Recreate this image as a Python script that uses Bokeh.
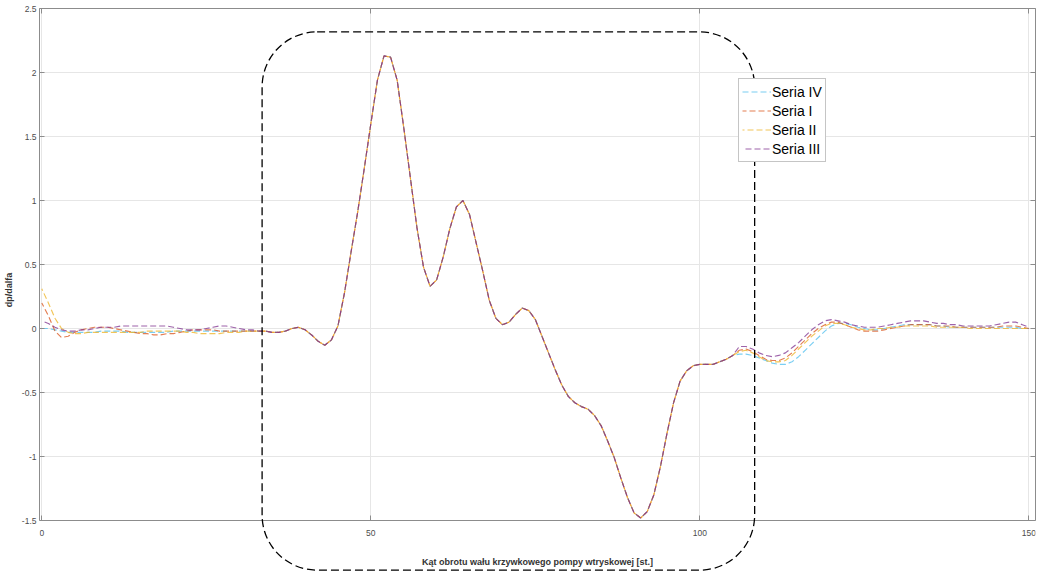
from bokeh.plotting import figure
from bokeh.models import (Label, Legend, LegendItem, FixedTicker, Range1d, LinearAxis,
                          CustomJSTickFormatter)
from bokeh.embed import file_html
from bokeh.resources import INLINE

# ---------------- data ----------------
angle = list(range(151))  # crank angle [deg], 0..150

# beginning (0..32 deg), per series
head_IV = [0.0, 0.0, -0.01, -0.02, -0.03, -0.03, -0.03, -0.03, -0.03, -0.02, -0.02,
           -0.02, -0.02, -0.03, -0.03, -0.03, -0.03, -0.03, -0.03, -0.03, -0.02, -0.02,
           -0.02, -0.02, -0.02, -0.02, -0.02, -0.02, -0.02, -0.02, -0.02, -0.02, -0.02]
head_I = [0.20, 0.10, -0.02, -0.07, -0.06, -0.03, -0.01, 0.0, 0.01, 0.01, 0.01,
          0.0, -0.01, -0.02, -0.03, -0.04, -0.04, -0.05, -0.05, -0.04, -0.04, -0.03,
          -0.02, -0.01, -0.01, -0.01, -0.01, -0.02, -0.02, -0.02, -0.02, -0.02, -0.02]
head_II = [0.31, 0.20, 0.08, 0.0, -0.03, -0.04, -0.04, -0.03, -0.03, -0.03, -0.03,
           -0.03, -0.03, -0.03, -0.03, -0.03, -0.02, -0.02, -0.02, -0.02, -0.02, -0.02,
           -0.03, -0.03, -0.04, -0.04, -0.04, -0.04, -0.03, -0.03, -0.03, -0.02, -0.02]
head_III = [0.06, 0.04, 0.01, -0.01, -0.02, -0.02, -0.01, -0.01, 0.0, 0.01, 0.01,
            0.01, 0.02, 0.02, 0.02, 0.02, 0.02, 0.02, 0.02, 0.02, 0.01, 0.0,
            -0.01, -0.01, -0.01, 0.0, 0.01, 0.02, 0.02, 0.01, 0.0, -0.01, -0.01]

# injection event (33..105 deg), common to all series
core = [-0.02, -0.02, -0.03, -0.03, -0.02, 0.0, 0.01, -0.01, -0.05, -0.10, -0.13,
        -0.09, 0.02, 0.28, 0.60, 0.91, 1.25, 1.60, 1.94, 2.13, 2.12, 1.94,
        1.57, 1.18, 0.79, 0.48, 0.33, 0.38, 0.56, 0.78, 0.95, 1.00, 0.89,
        0.67, 0.45, 0.22, 0.08, 0.03, 0.05, 0.11, 0.16, 0.14, 0.07, -0.06,
        -0.19, -0.32, -0.44, -0.53, -0.58, -0.61, -0.63, -0.68, -0.76, -0.88, -1.01,
        -1.17, -1.32, -1.44, -1.48, -1.43, -1.30, -1.08, -0.82, -0.58, -0.41, -0.33,
        -0.29, -0.28, -0.28, -0.28, -0.26, -0.24, -0.21]

# end (106..150 deg), per series
tail_IV = [-0.20, -0.20, -0.21, -0.23, -0.25, -0.27, -0.28, -0.28, -0.26, -0.22, -0.17,
           -0.12, -0.07, -0.02, 0.02, 0.04, 0.04, 0.03, 0.01, 0.0, -0.01, -0.01,
           0.0, 0.01, 0.02, 0.03, 0.03, 0.03, 0.03, 0.03, 0.02, 0.02, 0.01,
           0.01, 0.01, 0.01, 0.01, 0.01, 0.01, 0.01, 0.01, 0.01, 0.01, 0.0, 0.0]
tail_I = [-0.17, -0.16, -0.18, -0.21, -0.24, -0.25, -0.25, -0.23, -0.19, -0.14, -0.09,
          -0.04, 0.0, 0.03, 0.05, 0.05, 0.03, 0.01, -0.01, -0.02, -0.02, -0.02,
          -0.01, 0.0, 0.01, 0.02, 0.03, 0.03, 0.03, 0.03, 0.02, 0.02, 0.02,
          0.01, 0.01, 0.01, 0.01, 0.01, 0.01, 0.01, 0.02, 0.02, 0.02, 0.01, 0.0]
tail_II = [-0.18, -0.17, -0.19, -0.22, -0.25, -0.26, -0.26, -0.25, -0.21, -0.16, -0.11,
           -0.06, -0.02, 0.02, 0.04, 0.04, 0.03, 0.01, 0.0, -0.01, -0.01, 0.0,
           0.0, 0.01, 0.01, 0.02, 0.02, 0.02, 0.02, 0.02, 0.01, 0.01, 0.01,
           0.01, 0.01, 0.0, 0.0, 0.0, 0.0, 0.0, 0.0, 0.0, 0.0, 0.0, 0.0]
tail_III = [-0.14, -0.14, -0.16, -0.19, -0.21, -0.22, -0.21, -0.19, -0.15, -0.11, -0.06,
            -0.01, 0.03, 0.06, 0.07, 0.06, 0.05, 0.03, 0.02, 0.01, 0.01, 0.01,
            0.02, 0.03, 0.04, 0.05, 0.06, 0.06, 0.06, 0.05, 0.04, 0.04, 0.03,
            0.03, 0.02, 0.02, 0.02, 0.02, 0.02, 0.03, 0.04, 0.05, 0.05, 0.03, 0.01]

series_names = ["Seria IV", "Seria I", "Seria II", "Seria III"]
series_colors = ["#4DBEEE", "#D95319", "#EDB120", "#7E2F8E"]
series_vals = [head_IV + core + tail_IV,
               head_I + core + tail_I,
               head_II + core + tail_II,
               head_III + core + tail_III]

x_ticks = [0, 50, 100, 150]
y_ticks = [-1.5, -1.0, -0.5, 0.0, 0.5, 1.0, 1.5, 2.0, 2.5]
Y_MIN, Y_MAX = -1.5, 2.5

# ---------------- figure ----------------
# The frame is extended below y = -1.5 so that the rounded marker frame, which in
# the original reaches below the axis, can be drawn; the x axis is pinned at -1.5.
FONT = "Liberation Sans"
GREY = "#8c8c8c"
p = figure(width=1036, height=572, x_range=Range1d(-0.35, 151), y_range=Range1d(-1.898, Y_MAX),
           output_backend="svg", toolbar_location=None,
           min_border_left=31, min_border_right=1, min_border_top=8, min_border_bottom=1)
p.background_fill_color = "white"
p.border_fill_color = "white"
p.outline_line_color = None

renderers = []
for i, (vals, col) in enumerate(zip(series_vals, series_colors)):
    r = p.line(angle, vals, line_color=col, line_width=1.15, line_alpha=0.75,
               line_dash="6 3", line_dash_offset=i * 2)
    renderers.append(r)

fmt = CustomJSTickFormatter(code="return tick.toString();")


def style_axis(ax, ticks):
    ax.ticker = FixedTicker(ticks=ticks)
    ax.formatter = fmt
    ax.axis_line_color = GREY
    ax.major_tick_line_color = GREY
    ax.major_tick_in = 5
    ax.major_tick_out = 0
    ax.minor_tick_line_color = None
    ax.major_label_text_font = FONT
    ax.major_label_text_font_size = "8.5px"
    ax.major_label_text_color = "#4d4d4d"
    ax.axis_label_text_font = FONT
    ax.axis_label_text_font_style = "bold"
    ax.axis_label_text_font_size = "9px"
    ax.axis_label_text_color = "#333333"


def style_mirror(ax, ticks):
    # box edge without labels: ticks drawn as (label-free) minor ticks
    ax.ticker = FixedTicker(ticks=[], minor_ticks=ticks)
    ax.axis_line_color = GREY
    ax.major_tick_line_color = None
    ax.minor_tick_line_color = GREY
    ax.minor_tick_in = 5
    ax.minor_tick_out = 0
    ax.major_label_standoff = 0


xax = p.xaxis[0]
yax = p.yaxis[0]
style_axis(xax, x_ticks)
style_axis(yax, y_ticks)
xax.fixed_location = Y_MIN
yax.bounds = (Y_MIN, Y_MAX)

xax.axis_label = "Kąt obrotu wału krzywkowego pompy wtryskowej [st.]"
xax.major_label_standoff = 9
xax.axis_label_standoff = 18
yax.axis_label = "dp/dalfa"
yax.major_label_standoff = 3
yax.axis_label_standoff = 5

# mirrored box edges (top and right), as in the original
top_ax = LinearAxis()
style_mirror(top_ax, x_ticks)
p.add_layout(top_ax, "above")
right_ax = LinearAxis(bounds=(Y_MIN, Y_MAX))
style_mirror(right_ax, y_ticks)
p.add_layout(right_ax, "right")

p.xgrid.ticker = FixedTicker(ticks=x_ticks)
p.ygrid.ticker = FixedTicker(ticks=y_ticks)
p.grid.grid_line_color = "#e6e6e6"
p.grid.grid_line_width = 1
try:
    p.xgrid.cross_bounds = (Y_MIN, Y_MAX)
except Exception:
    p.xgrid.visible = False
    p.segment(x0=x_ticks, x1=x_ticks, y0=[Y_MIN] * len(x_ticks), y1=[Y_MAX] * len(x_ticks),
              line_color="#e6e6e6", line_width=1, level="underlay")

# rounded dashed frame marking the injection event (padded blank label)
mark = Label(x=70.9, y=0.215, text=" ", anchor="center",
             text_font_size="2px", text_color="black",
             padding=(246, 268), border_radius=55,
             border_line_color="black", border_line_width=1.3, border_line_dash="8 4",
             border_line_alpha=1.0, background_fill_color=None, level="overlay")
p.add_layout(mark)

legend = Legend(items=[LegendItem(label=n, renderers=[r]) for n, r in zip(series_names, renderers)],
                location=(699, 409), orientation="vertical",
                label_text_font=FONT, label_text_font_size="14px", label_text_color="black",
                glyph_width=29, glyph_height=19, label_height=19, label_standoff=1,
                spacing=0, padding=3, margin=0,
                border_line_color=GREY, border_line_width=1,
                background_fill_color="white", background_fill_alpha=1)
p.add_layout(legend)

open("out.html", "w").write(file_html(p, INLINE))
